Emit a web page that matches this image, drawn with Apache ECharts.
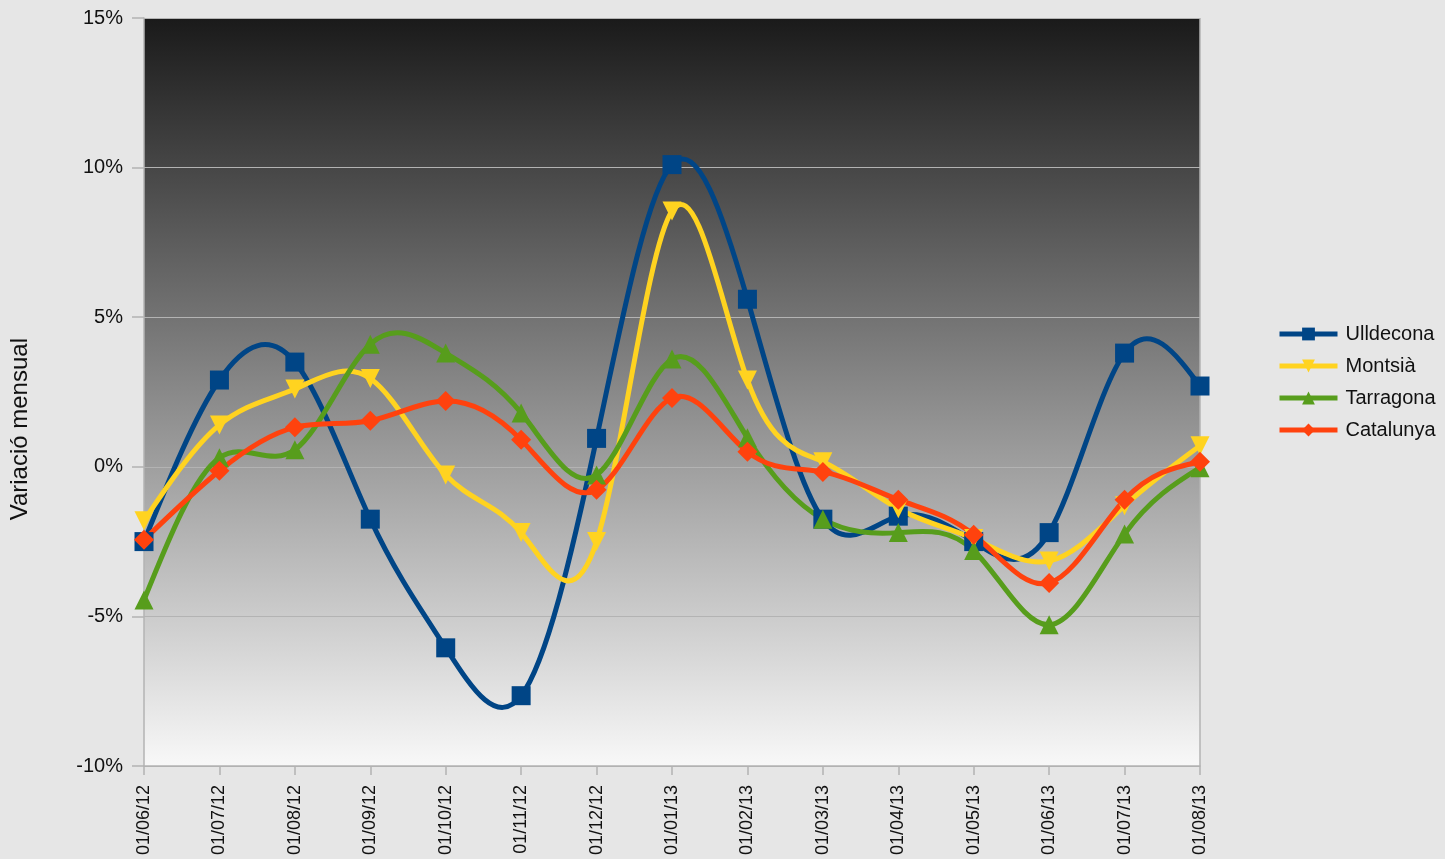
<!DOCTYPE html>
<html><head><meta charset="utf-8">
<script src="https://cdn.jsdelivr.net/npm/echarts@6/dist/echarts.min.js"></script>
<style>html,body{margin:0;padding:0;background:#e6e6e6}#c{width:1445px;height:859px}</style>
</head><body><div id="c"></div>
<script>
const categories = ['01/06/12','01/07/12','01/08/12','01/09/12','01/10/12','01/11/12','01/12/12','01/01/13','01/02/13','01/03/13','01/04/13','01/05/13','01/06/13','01/07/13','01/08/13'];
const ulldecona = [-2.5, 2.9, 3.5, -1.75, -6.05, -7.65, 0.95, 10.1, 5.6, -1.75, -1.65, -2.5, -2.2, 3.8, 2.7];
const montsia   = [-1.8, 1.4, 2.6, 2.95, -0.27, -2.2, -2.5, 8.55, 2.9, 0.17, -1.4, -2.4, -3.15, -1.3, 0.7];
const tarragona = [-4.45, 0.3, 0.57, 4.1, 3.8, 1.8, -0.27, 3.6, 0.97, -1.75, -2.2, -2.8, -5.28, -2.25, -0.03];
const catalunya = [-2.44, -0.13, 1.32, 1.54, 2.2, 0.9, -0.77, 2.3, 0.5, -0.17, -1.1, -2.27, -3.88, -1.1, 0.17];
const yTicks = [-10, -5, 0, 5, 10, 15];
const seriesNames = ['Ulldecona','Montsià','Tarragona','Catalunya'];

const chart = echarts.init(document.getElementById('c'));
const font = 'Liberation Sans, Arial, sans-serif';

// natural cubic spline through pixel points, rendered as bezier path
function splinePath(pts){
  const n = pts.length;
  const h = [], M = new Array(n).fill(0);
  for (let i=0;i<n-1;i++) h.push(pts[i+1][0]-pts[i][0]);
  if (n > 2){
    const a=[],b=[],c=[],d=[];
    for (let i=1;i<n-1;i++){
      a.push(h[i-1]); b.push(2*(h[i-1]+h[i])); c.push(h[i]);
      d.push(6*((pts[i+1][1]-pts[i][1])/h[i] - (pts[i][1]-pts[i-1][1])/h[i-1]));
    }
    const m = b.length;
    for (let i=1;i<m;i++){ const w=a[i]/b[i-1]; b[i]-=w*c[i-1]; d[i]-=w*d[i-1]; }
    const sol = new Array(m);
    sol[m-1]=d[m-1]/b[m-1];
    for (let i=m-2;i>=0;i--) sol[i]=(d[i]-c[i]*sol[i+1])/b[i];
    for (let i=0;i<m;i++) M[i+1]=sol[i];
  }
  let s = 'M'+pts[0][0]+' '+pts[0][1];
  for (let i=0;i<n-1;i++){
    const hi=h[i], y0=pts[i][1], y1=pts[i+1][1];
    const s0 = (y1-y0)/hi - hi*(2*M[i]+M[i+1])/6;
    const s1 = (y1-y0)/hi + hi*(M[i]+2*M[i+1])/6;
    s += ' C'+(pts[i][0]+hi/3)+' '+(y0+s0*hi/3)+' '+(pts[i+1][0]-hi/3)+' '+(y1-s1*hi/3)+' '+pts[i+1][0]+' '+y1;
  }
  return s;
}
function curve(name, data, color){
  return {name:name+'_curve', type:'custom', data:data.map((v,i)=>[i,v]), silent:true, animation:false,
    encode:{x:0,y:1},
    renderItem:function(params, api){
      if (params.dataIndex !== 0) return null;
      const pts = data.map((v,i)=>api.coord([i,v]));
      return {type:'path', shape:{pathData:splinePath(pts)},
        style:{fill:null, stroke:color, lineWidth:5, lineJoin:'round', lineCap:'round'}};
    }};
}
function markers(name, data, color, symbol, rotate, size){
  return {name, type:'line', data, symbol, symbolSize:size, symbolRotate:rotate,
    showSymbol:true, lineStyle:{width:5, color, opacity:0}, itemStyle:{color, borderWidth:0}, animation:false};
}
chart.setOption({
  backgroundColor:'#e6e6e6',
  animation:false,
  textStyle:{fontFamily:font},
  grid:{left:144, right:245, top:18, bottom:93, show:true, borderWidth:0,
    backgroundColor:{type:'linear',x:0,y:0,x2:0,y2:1,colorStops:[{offset:0,color:'#1a1a1a'},{offset:1,color:'#f8f8f8'}]}},
  legend:{orient:'vertical', left:1272, top:319, itemWidth:58, itemHeight:16, itemGap:12,
    lineStyle:{width:5, opacity:1},
    textStyle:{fontSize:20, color:'#111', fontFamily:font, padding:[0,0,0,3]},
    data:seriesNames},
  xAxis:{type:'category', data:categories, boundaryGap:false,
    axisLine:{show:true, onZero:false, lineStyle:{color:'#b3b3b3', width:1.5}},
    axisTick:{show:true, alignWithLabel:true, length:9, lineStyle:{color:'#b3b3b3', width:1.5}},
    axisLabel:{rotate:90, fontSize:18, color:'#111', margin:19, interval:0, fontFamily:font},
    splitLine:{show:false}},
  yAxis:{type:'value', min:yTicks[0], max:yTicks[yTicks.length-1], interval:5,
    axisLine:{show:true, lineStyle:{color:'#b3b3b3', width:1.5}},
    axisTick:{show:true, length:12, lineStyle:{color:'#b3b3b3', width:1.5}},
    axisLabel:{formatter:v=>v+'%', fontSize:20, color:'#111', margin:21, fontFamily:font},
    splitLine:{show:true, lineStyle:{color:'#b3b3b3', width:1}}},
  graphic:[
    {type:'text', left:8, top:338, rotation:Math.PI/2, style:{text:'Variació mensual', font:'24px '+font, fill:'#111'}},
    {type:'line', shape:{x1:1200,y1:18,x2:1200,y2:766}, style:{stroke:'#b3b3b3', lineWidth:1.5}, z:1}
  ],
  series:[
    curve('Ulldecona', ulldecona, '#004586'),
    markers('Ulldecona', ulldecona, '#004586', 'rect', 0, 19),
    curve('Montsià', montsia, '#ffd320'),
    markers('Montsià', montsia, '#ffd320', 'triangle', 180, 19),
    curve('Tarragona', tarragona, '#579d1c'),
    markers('Tarragona', tarragona, '#579d1c', 'triangle', 0, 19),
    curve('Catalunya', catalunya, '#ff420e'),
    markers('Catalunya', catalunya, '#ff420e', 'diamond', 0, 20)
  ]
});
</script></body></html>
